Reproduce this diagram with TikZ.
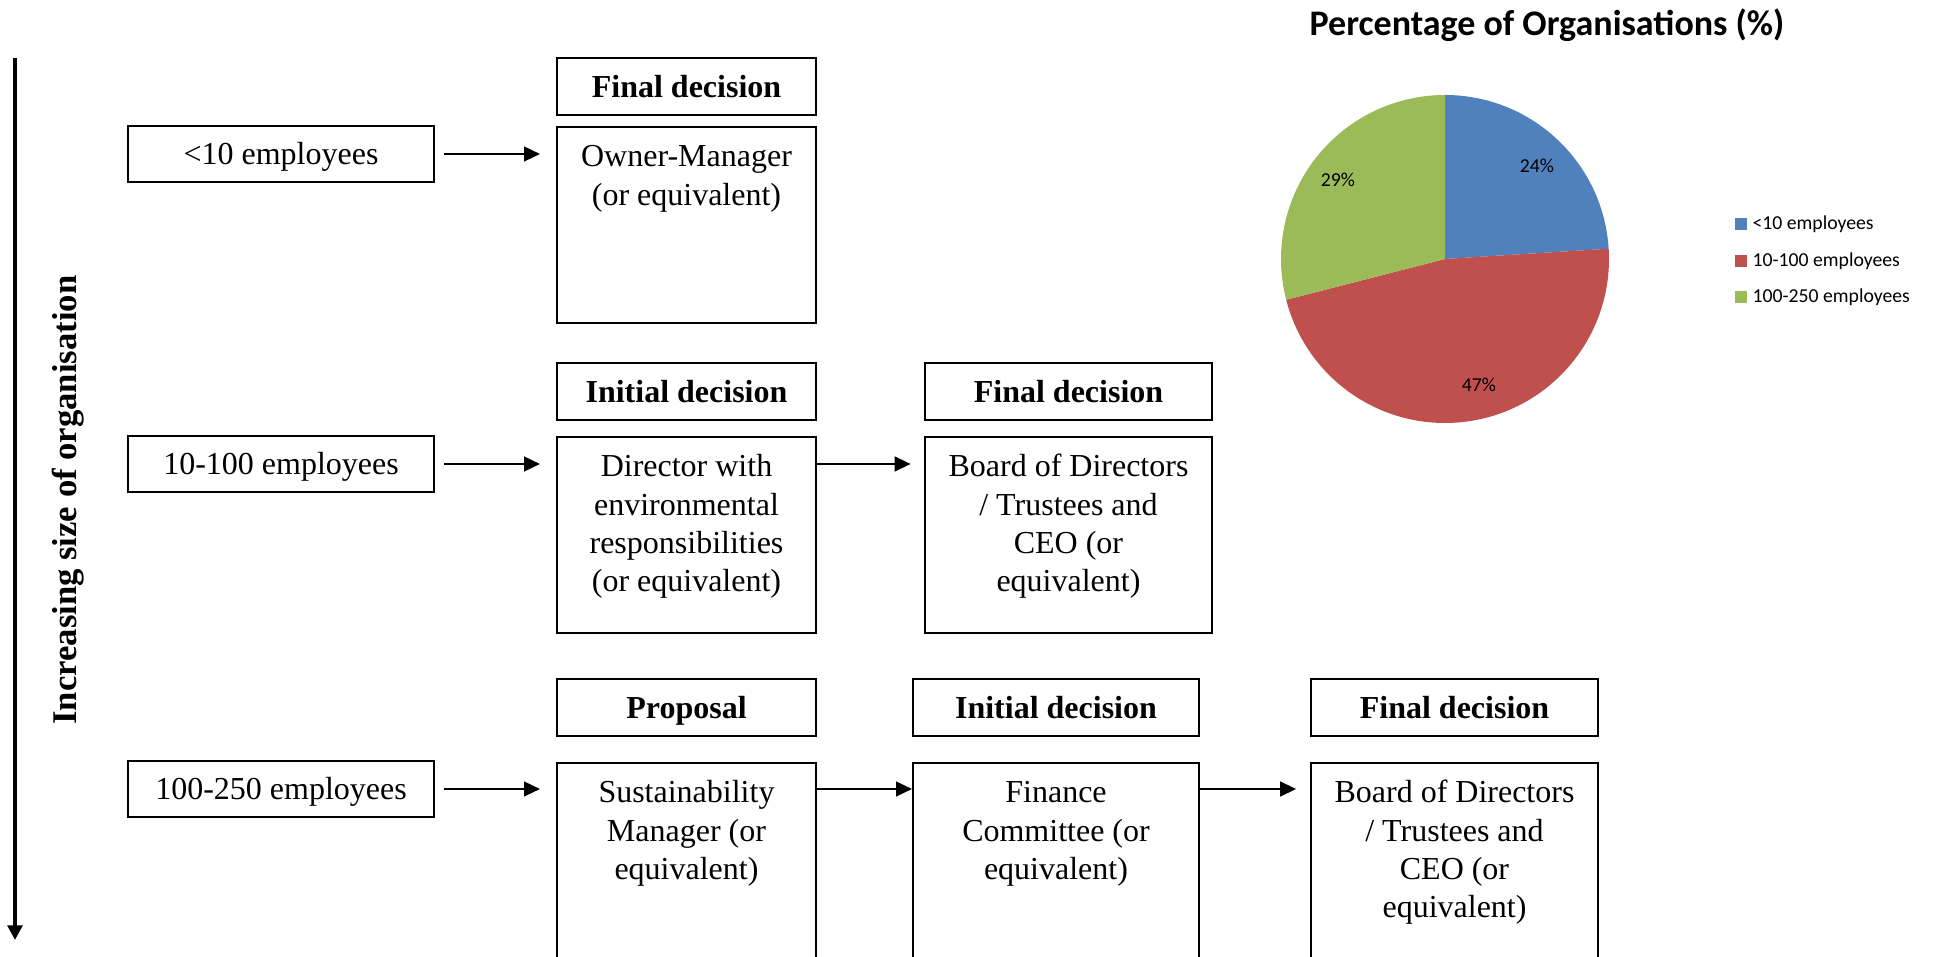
\documentclass[tikz,border=0pt]{standalone}
\usepackage{fontspec}
\setmainfont{Liberation Serif}
\newfontfamily\chartfont{Carlito}
\usepackage{tikz}
\usetikzlibrary{arrows.meta}
\usetikzlibrary{positioning}

\definecolor{pieblue}{HTML}{4F81BD}
\definecolor{piered}{HTML}{C0504D}
\definecolor{piegreen}{HTML}{9BBB59}
\newdimen\pxu \pxu=0.375pt
\newcommand{\rolelines}[1]{\begin{tabular}[t]{@{}c@{}}#1\end{tabular}}

\begin{document}
\begin{tikzpicture}[x=0.375pt,y=0.375pt,
  sizebox/.style={draw,line width=0.75pt,minimum width=306\pxu,minimum height=56\pxu,inner sep=0pt,text height=8pt,text depth=0pt,font=\fontsize{12}{14.3}\selectfont},
  headbox/.style={draw,line width=0.75pt,minimum height=57\pxu,inner sep=0pt,text height=8pt,text depth=0pt,font=\fontsize{12}{14.3}\selectfont\bfseries},
  rolebox/.style={draw,line width=0.75pt,anchor=north,inner xsep=0pt,inner ysep=0pt,text height=40\pxu,text depth=156\pxu,font=\fontsize{12}{14.3}\selectfont},
  arr/.style={line width=0.9pt,-{Triangle[length=6pt,width=5.5pt]}},
  bigarr/.style={line width=1.5pt,-{Triangle[length=5.5pt,width=5.5pt]}},
  pietext/.style={inner sep=0pt,font=\chartfont\fontsize{7.4}{9}\selectfont},
  legtext/.style={anchor=west,inner sep=0pt,font=\chartfont\fontsize{7.4}{9}\selectfont},
]
\useasboundingbox (0,0) rectangle (1936,-957);

% size axis
\coordinate (axtop) at (15,-58);
\coordinate (axbot) at (15,-940);
\draw[bigarr] (axtop) -- (axbot);
\node[rotate=90,font=\fontsize{13}{15}\selectfont\bfseries] (axlbl) at (68,-500) {Increasing size of organisation};

% row 1
\node[sizebox] (lt1) at (281,-154) {<10 employees};
\node[headbox,minimum width=259\pxu] (hd1) at (686.5,-86.5) {Final decision};
\node[rolebox,minimum width=259\pxu] (own1) at (686.5,-126) {\rolelines{Owner-Manager\\(or equivalent)}};
\draw[arr,shorten <=3.4pt,shorten >=6pt] (lt1.east) -- (lt1.east -| own1.west);

% row 2
\node[sizebox] (lt2) at (281,-464) {10-100 employees};
\node[headbox,minimum width=259\pxu] (hd2a) at (686.5,-392) {Initial decision};
\node[rolebox,minimum width=259\pxu] (dir2) at (686.5,-436) {\rolelines{Director with\\environmental\\responsibilities\\(or equivalent)}};
\node[headbox,minimum width=287\pxu] (hd2b) at (1068.5,-392) {Final decision};
\node[rolebox,minimum width=287\pxu] (brd2) at (1068.5,-436) {\rolelines{Board of Directors\\/ Trustees and\\CEO (or\\equivalent)}};
\draw[arr,shorten <=3.4pt,shorten >=6pt] (lt2.east) -- (lt2.east -| dir2.west);
\draw[arr,shorten >=5pt] (lt2.east -| dir2.east) -- (lt2.east -| brd2.west);

% row 3
\node[sizebox] (lt3) at (281,-789) {100-250 employees};
\node[headbox,minimum width=259\pxu] (hd3a) at (686.5,-708) {Proposal};
\node[rolebox,minimum width=259\pxu] (sus3) at (686.5,-762) {\rolelines{Sustainability\\Manager (or\\equivalent)}};
\node[headbox,minimum width=286\pxu] (hd3b) at (1056,-708) {Initial decision};
\node[rolebox,minimum width=286\pxu] (fin3) at (1056,-762) {\rolelines{Finance\\Committee (or\\equivalent)}};
\node[headbox,minimum width=287\pxu] (hd3c) at (1454.5,-708) {Final decision};
\node[rolebox,minimum width=287\pxu] (brd3) at (1454.5,-762) {\rolelines{Board of Directors\\/ Trustees and\\CEO (or\\equivalent)}};
\draw[arr,shorten <=3.4pt,shorten >=6pt] (lt3.east) -- (lt3.east -| sus3.west);
\draw[arr] (lt3.east -| sus3.east) -- (lt3.east -| fin3.west);
\draw[arr,shorten >=5.2pt] (lt3.east -| fin3.east) -- (lt3.east -| brd3.west);

% pie chart
\node[font=\chartfont\fontsize{13.5}{16}\selectfont\bfseries] (ptitle) at (1547,-25) {Percentage of Organisations (\%)};
\coordinate (pc) at (1445,-259);
\fill[pieblue] (pc) -- ++(90:164\pxu) arc[start angle=90,end angle=3.6,radius=164\pxu] -- cycle;
\fill[piered] (pc) -- ++(3.6:164\pxu) arc[start angle=3.6,end angle=-165.6,radius=164\pxu] -- cycle;
\fill[piegreen] (pc) -- ++(194.4:164\pxu) arc[start angle=194.4,end angle=90,radius=164\pxu] -- cycle;
\node[pietext] (p24) at (1537,-166) {24\%};
\node[pietext] (p29) at (1338,-180) {29\%};
\node[pietext] (p47) at (1479,-385) {47\%};

% legend
\fill[pieblue] (1735,-218) rectangle (1747,-230);
\node[legtext] (lg1) at (1752,-224) {<10 employees};
\fill[piered] (1735,-255) rectangle (1747,-267);
\node[legtext] (lg2) at (1752,-261) {10-100 employees};
\fill[piegreen] (1735,-291) rectangle (1747,-303);
\node[legtext] (lg3) at (1752,-297) {100-250 employees};

\end{tikzpicture}
\end{document}
